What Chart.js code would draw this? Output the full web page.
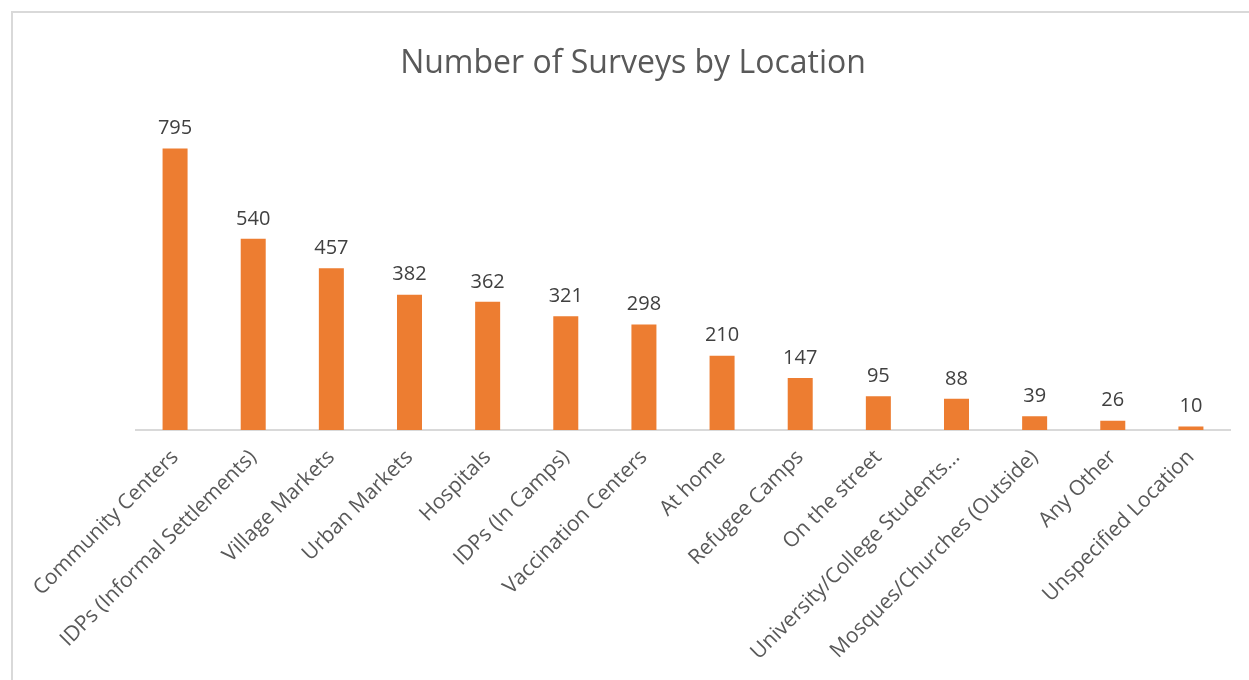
<!DOCTYPE html>
<html>
<head>
<meta charset="utf-8">
<script src="https://cdn.jsdelivr.net/npm/chart.js@4"></script>
<style>
    body { margin: 0; background: #fff; }
    #frame {
        position: absolute; left: 11px; top: 11px;
        width: 1300px; height: 720px;
        border: 2px solid #d9d9d9;
    }
    #wrap { position: absolute; left: 0; top: 0; width: 1249px; height: 680px; }
</style>
</head>
<body>
<div id="frame"></div>
<div id="wrap"><canvas id="chart"></canvas></div>
<script>
const locations = [
    'Community Centers', 'IDPs (Informal Settlements)', 'Village Markets', 'Urban Markets',
    'Hospitals', 'IDPs (In Camps)', 'Vaccination Centers', 'At home', 'Refugee Camps',
    'On the street', 'University/College Students...', 'Mosques/Churches (Outside)',
    'Any Other', 'Unspecified Location'
];
const surveys = [795, 540, 457, 382, 362, 321, 298, 210, 147, 95, 88, 39, 26, 10];
const Y_MAX = 900;

const FONT = "'Open Sans', 'Noto Sans', sans-serif";

// draw the value above each bar
const valueLabels = {
    id: 'valueLabels',
    afterDatasetsDraw(chart) {
        let ctx = chart.ctx;
        let meta = chart.getDatasetMeta(0);
        ctx.save();
        ctx.font = `20px ${FONT}`;
        ctx.fillStyle = '#404040';
        ctx.textAlign = 'center';
        ctx.textBaseline = 'bottom';
        meta.data.forEach(function (bar, i) {
            ctx.fillText(surveys[i], bar.x, bar.y - 10);
        });
        ctx.restore();
    }
};

let chart = new Chart(document.getElementById('chart'), {
    type: 'bar',
    data: {
        labels: locations,
        datasets: [{
            data: surveys,
            backgroundColor: '#ED7D31',
            categoryPercentage: 1,
            barPercentage: 0.32
        }]
    },
    options: {
        responsive: true,
        maintainAspectRatio: false,
        animation: false,
        // title is centred over the whole frame, not the plot
        layout: { padding: { top: 45, left: 17, right: 0, bottom: 0 } },
        plugins: {
            legend: { display: false },
            tooltip: { enabled: false },
            title: {
                display: true,
                text: 'Number of Surveys by Location',
                color: '#595959',
                font: { family: FONT, size: 32, weight: 'normal' },
                padding: { top: 0, bottom: 28 }
            }
        },
        scales: {
            x: {
                grid: { display: false, drawTicks: false },
                border: { color: '#d9d9d9', width: 2 },
                ticks: {
                    color: '#595959',
                    font: { family: FONT, size: 21 },
                    minRotation: 45,
                    maxRotation: 45,
                    autoSkip: false,
                    padding: 15
                },
                afterFit(scale) {
                    scale.height = 250;
                    scale.paddingLeft = 136;
                    scale.paddingRight = 19;
                }
            },
            y: {
                display: false,
                min: 0,
                max: Y_MAX
            }
        }
    },
    plugins: [valueLabels]
});
</script>
</body>
</html>
